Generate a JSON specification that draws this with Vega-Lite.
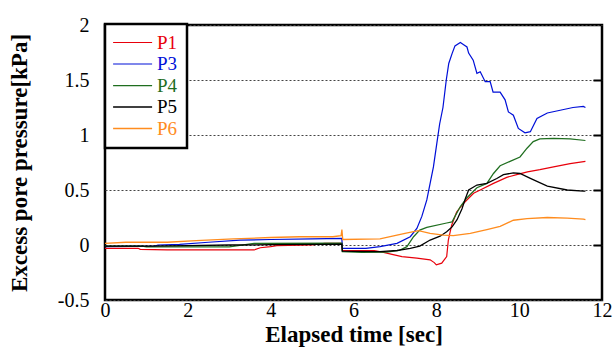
{
  "$schema": "https://vega.github.io/schema/vega-lite/v6.json",
  "width": 497,
  "height": 275,
  "autosize": {"type": "none"},
  "padding": {"left": 105, "top": 25, "right": 14, "bottom": 47},
  "background": "white",
  "config": {
    "view": {"stroke": "black", "strokeWidth": 2.5},
    "font": "Liberation Serif"
  },
  "data": {
    "values": [
      {"t": 0, "v": -0.03, "s": "P1"}, {"t": 0.8, "v": -0.03, "s": "P1"}, {"t": 0.85, "v": -0.04, "s": "P1"}, {"t": 1.5, "v": -0.045, "s": "P1"}, {"t": 2.5, "v": -0.045, "s": "P1"}, {"t": 3.6, "v": -0.045, "s": "P1"}, {"t": 3.75, "v": -0.025, "s": "P1"}, {"t": 4.0, "v": -0.015, "s": "P1"}, {"t": 4.15, "v": -0.005, "s": "P1"}, {"t": 5.0, "v": 0.0, "s": "P1"}, {"t": 5.3, "v": 0.015, "s": "P1"}, {"t": 5.72, "v": 0.015, "s": "P1"},
      {"t": 5.73, "v": -0.05, "s": "P1"}, {"t": 6.5, "v": -0.05, "s": "P1"}, {"t": 6.7, "v": -0.065, "s": "P1"}, {"t": 6.93, "v": -0.085, "s": "P1"}, {"t": 7.17, "v": -0.105, "s": "P1"}, {"t": 7.53, "v": -0.12, "s": "P1"}, {"t": 7.85, "v": -0.135, "s": "P1"}, {"t": 7.95, "v": -0.16, "s": "P1"}, {"t": 8.0, "v": -0.18, "s": "P1"}, {"t": 8.13, "v": -0.165, "s": "P1"}, {"t": 8.25, "v": -0.105, "s": "P1"}, {"t": 8.29, "v": 0.045, "s": "P1"}, {"t": 8.37, "v": 0.18, "s": "P1"}, {"t": 8.49, "v": 0.3, "s": "P1"}, {"t": 8.66, "v": 0.38, "s": "P1"}, {"t": 8.9, "v": 0.47, "s": "P1"}, {"t": 9.06, "v": 0.5, "s": "P1"}, {"t": 9.38, "v": 0.56, "s": "P1"}, {"t": 9.7, "v": 0.615, "s": "P1"}, {"t": 9.94, "v": 0.64, "s": "P1"}, {"t": 10.2, "v": 0.665, "s": "P1"}, {"t": 10.5, "v": 0.685, "s": "P1"}, {"t": 10.83, "v": 0.71, "s": "P1"}, {"t": 11.23, "v": 0.74, "s": "P1"}, {"t": 11.6, "v": 0.76, "s": "P1"},

      {"t": 0, "v": -0.015, "s": "P3"}, {"t": 1.2, "v": -0.01, "s": "P3"}, {"t": 1.28, "v": 0.0, "s": "P3"}, {"t": 1.8, "v": 0.006, "s": "P3"}, {"t": 2.5, "v": 0.025, "s": "P3"}, {"t": 3.26, "v": 0.045, "s": "P3"}, {"t": 4.0, "v": 0.05, "s": "P3"}, {"t": 5.0, "v": 0.055, "s": "P3"}, {"t": 5.72, "v": 0.06, "s": "P3"},
      {"t": 5.73, "v": -0.03, "s": "P3"}, {"t": 6.3, "v": -0.03, "s": "P3"}, {"t": 6.64, "v": -0.015, "s": "P3"}, {"t": 7.05, "v": 0.015, "s": "P3"}, {"t": 7.37, "v": 0.075, "s": "P3"}, {"t": 7.53, "v": 0.15, "s": "P3"}, {"t": 7.65, "v": 0.26, "s": "P3"}, {"t": 7.77, "v": 0.41, "s": "P3"}, {"t": 7.85, "v": 0.56, "s": "P3"}, {"t": 7.93, "v": 0.71, "s": "P3"}, {"t": 8.01, "v": 0.92, "s": "P3"}, {"t": 8.08, "v": 1.1, "s": "P3"}, {"t": 8.16, "v": 1.25, "s": "P3"}, {"t": 8.24, "v": 1.5, "s": "P3"}, {"t": 8.3, "v": 1.65, "s": "P3"}, {"t": 8.38, "v": 1.74, "s": "P3"}, {"t": 8.45, "v": 1.81, "s": "P3"}, {"t": 8.58, "v": 1.84, "s": "P3"}, {"t": 8.66, "v": 1.82, "s": "P3"}, {"t": 8.74, "v": 1.8, "s": "P3"}, {"t": 8.78, "v": 1.745, "s": "P3"}, {"t": 8.89, "v": 1.68, "s": "P3"}, {"t": 8.98, "v": 1.56, "s": "P3"}, {"t": 9.06, "v": 1.575, "s": "P3"}, {"t": 9.18, "v": 1.485, "s": "P3"}, {"t": 9.3, "v": 1.485, "s": "P3"}, {"t": 9.37, "v": 1.39, "s": "P3"}, {"t": 9.54, "v": 1.39, "s": "P3"}, {"t": 9.66, "v": 1.32, "s": "P3"}, {"t": 9.74, "v": 1.21, "s": "P3"}, {"t": 9.86, "v": 1.18, "s": "P3"}, {"t": 9.98, "v": 1.06, "s": "P3"}, {"t": 10.14, "v": 1.02, "s": "P3"}, {"t": 10.27, "v": 1.03, "s": "P3"}, {"t": 10.43, "v": 1.15, "s": "P3"}, {"t": 10.68, "v": 1.2, "s": "P3"}, {"t": 10.99, "v": 1.225, "s": "P3"}, {"t": 11.3, "v": 1.25, "s": "P3"}, {"t": 11.55, "v": 1.26, "s": "P3"}, {"t": 11.6, "v": 1.25, "s": "P3"},

      {"t": 0, "v": -0.01, "s": "P4"}, {"t": 0.9, "v": -0.01, "s": "P4"}, {"t": 1.0, "v": -0.018, "s": "P4"}, {"t": 3.0, "v": -0.018, "s": "P4"}, {"t": 3.6, "v": 0.015, "s": "P4"}, {"t": 5.72, "v": 0.018, "s": "P4"},
      {"t": 5.73, "v": -0.06, "s": "P4"}, {"t": 6.2, "v": -0.066, "s": "P4"}, {"t": 6.8, "v": -0.065, "s": "P4"}, {"t": 7.1, "v": -0.05, "s": "P4"}, {"t": 7.29, "v": -0.015, "s": "P4"}, {"t": 7.45, "v": 0.075, "s": "P4"}, {"t": 7.6, "v": 0.136, "s": "P4"}, {"t": 7.77, "v": 0.16, "s": "P4"}, {"t": 8.25, "v": 0.2, "s": "P4"}, {"t": 8.38, "v": 0.21, "s": "P4"}, {"t": 8.45, "v": 0.26, "s": "P4"}, {"t": 8.58, "v": 0.35, "s": "P4"}, {"t": 8.74, "v": 0.43, "s": "P4"}, {"t": 8.98, "v": 0.52, "s": "P4"}, {"t": 9.22, "v": 0.56, "s": "P4"}, {"t": 9.38, "v": 0.65, "s": "P4"}, {"t": 9.54, "v": 0.72, "s": "P4"}, {"t": 9.78, "v": 0.76, "s": "P4"}, {"t": 10.02, "v": 0.8, "s": "P4"}, {"t": 10.19, "v": 0.88, "s": "P4"}, {"t": 10.34, "v": 0.94, "s": "P4"}, {"t": 10.5, "v": 0.965, "s": "P4"}, {"t": 10.83, "v": 0.97, "s": "P4"}, {"t": 11.23, "v": 0.965, "s": "P4"}, {"t": 11.6, "v": 0.95, "s": "P4"},

      {"t": 0, "v": -0.01, "s": "P5"}, {"t": 1, "v": -0.01, "s": "P5"}, {"t": 2, "v": -0.005, "s": "P5"}, {"t": 3, "v": 0.0, "s": "P5"}, {"t": 4, "v": 0.003, "s": "P5"}, {"t": 5, "v": 0.005, "s": "P5"}, {"t": 5.72, "v": 0.008, "s": "P5"},
      {"t": 5.73, "v": -0.055, "s": "P5"}, {"t": 6.0, "v": -0.058, "s": "P5"}, {"t": 6.64, "v": -0.06, "s": "P5"}, {"t": 7.05, "v": -0.05, "s": "P5"}, {"t": 7.37, "v": -0.03, "s": "P5"}, {"t": 7.6, "v": -0.01, "s": "P5"}, {"t": 7.85, "v": 0.045, "s": "P5"}, {"t": 8.09, "v": 0.08, "s": "P5"}, {"t": 8.25, "v": 0.12, "s": "P5"}, {"t": 8.38, "v": 0.165, "s": "P5"}, {"t": 8.5, "v": 0.23, "s": "P5"}, {"t": 8.62, "v": 0.33, "s": "P5"}, {"t": 8.7, "v": 0.42, "s": "P5"}, {"t": 8.78, "v": 0.5, "s": "P5"}, {"t": 8.98, "v": 0.545, "s": "P5"}, {"t": 9.22, "v": 0.56, "s": "P5"}, {"t": 9.46, "v": 0.605, "s": "P5"}, {"t": 9.62, "v": 0.64, "s": "P5"}, {"t": 9.86, "v": 0.655, "s": "P5"}, {"t": 10.02, "v": 0.65, "s": "P5"}, {"t": 10.27, "v": 0.605, "s": "P5"}, {"t": 10.68, "v": 0.535, "s": "P5"}, {"t": 11.16, "v": 0.5, "s": "P5"}, {"t": 11.55, "v": 0.49, "s": "P5"}, {"t": 11.6, "v": 0.49, "s": "P5"},

      {"t": 0, "v": 0.015, "s": "P6"}, {"t": 0.5, "v": 0.025, "s": "P6"}, {"t": 1.5, "v": 0.025, "s": "P6"}, {"t": 2.2, "v": 0.04, "s": "P6"}, {"t": 3.1, "v": 0.055, "s": "P6"}, {"t": 4.0, "v": 0.068, "s": "P6"}, {"t": 4.7, "v": 0.075, "s": "P6"}, {"t": 5.5, "v": 0.075, "s": "P6"}, {"t": 5.7, "v": 0.085, "s": "P6"}, {"t": 5.72, "v": 0.14, "s": "P6"}, {"t": 5.74, "v": 0.05, "s": "P6"},
      {"t": 6.64, "v": 0.055, "s": "P6"}, {"t": 7.05, "v": 0.09, "s": "P6"}, {"t": 7.3, "v": 0.11, "s": "P6"}, {"t": 7.57, "v": 0.13, "s": "P6"}, {"t": 7.85, "v": 0.105, "s": "P6"}, {"t": 8.17, "v": 0.09, "s": "P6"}, {"t": 8.41, "v": 0.085, "s": "P6"}, {"t": 8.82, "v": 0.105, "s": "P6"}, {"t": 9.22, "v": 0.14, "s": "P6"}, {"t": 9.54, "v": 0.17, "s": "P6"}, {"t": 9.86, "v": 0.225, "s": "P6"}, {"t": 10.19, "v": 0.24, "s": "P6"}, {"t": 10.68, "v": 0.25, "s": "P6"}, {"t": 11.16, "v": 0.245, "s": "P6"}, {"t": 11.55, "v": 0.235, "s": "P6"}, {"t": 11.6, "v": 0.23, "s": "P6"}
    ]
  },
  "layer": [
    {
      "mark": {"type": "line", "clip": true},
      "encoding": {
        "x": {
          "field": "t", "type": "quantitative",
          "scale": {"domain": [0, 12], "nice": false, "zero": false},
          "axis": {
            "title": "Elapsed time [sec]", "values": [0, 2, 4, 6, 8, 10, 12], "format": "d",
            "grid": false, "ticks": false, "domain": false,
            "labelFont": "Liberation Serif", "labelFontSize": 20, "labelColor": "black", "labelPadding": 0,
            "labelFlush": false, "labelOverlap": false,
            "titleFont": "Liberation Serif", "titleFontSize": 23, "titleFontWeight": "bold", "titleColor": "black", "titlePadding": 3
          }
        },
        "y": {
          "field": "v", "type": "quantitative",
          "scale": {"domain": [-0.5, 2], "nice": false, "zero": false},
          "axis": {
            "title": "Excess pore pressure[kPa]", "values": [-0.5, 0, 0.5, 1, 1.5, 2],
            "labelExpr": "datum.value + ''",
            "grid": true, "gridDash": [2, 2], "gridColor": "#444", "gridWidth": 1,
            "ticks": false, "domain": false,
            "labelFont": "Liberation Serif", "labelFontSize": 20, "labelColor": "black", "labelPadding": 16,
            "labelFlush": false, "labelOverlap": false,
            "titleFont": "Liberation Serif", "titleFontSize": 23, "titleFontWeight": "bold", "titleColor": "black", "titlePadding": 26
          }
        },
        "color": {
          "field": "s", "type": "nominal",
          "scale": {"domain": ["P1", "P3", "P4", "P5", "P6"], "range": ["#e8000b", "#0010d8", "#1f6e1f", "#000000", "#ff8c1e"]},
          "legend": {
            "title": null, "orient": "none", "legendX": 0, "legendY": -1,
            "fillColor": "white", "strokeColor": "black", "padding": 9,
            "symbolType": "M-1.6,0H4.4", "symbolSize": 169, "symbolStrokeWidth": 1.3,
            "labelFont": "Liberation Serif", "labelFontSize": 19, "labelOffset": 24, "rowPadding": 1.5,
            "encode": {
              "legend": {"update": {"strokeWidth": {"value": 2.5}}},
              "labels": {"update": {"fill": {"scale": "color", "field": "value"}}}
            }
          }
        },
        "strokeWidth": {
          "field": "s", "type": "nominal",
          "scale": {"domain": ["P1", "P3", "P4", "P5", "P6"], "range": [1.2, 1.3, 1.3, 2, 1.8]},
          "legend": null
        }
      }
    },
    {
      "mark": {"type": "line", "opacity": 0},
      "encoding": {
        "x": {"field": "t", "type": "quantitative"},
        "y": {
          "field": "v", "type": "quantitative",
          "axis": {
            "orient": "right", "title": null, "values": [0, 0.5, 1, 1.5], "labels": false,
            "grid": false, "domain": false, "ticks": true, "tickSize": -9, "tickWidth": 2, "tickColor": "black"
          }
        },
        "detail": {"field": "s", "type": "nominal"}
      }
    }
  ],
  "resolve": {"axis": {"y": "independent"}}
}
